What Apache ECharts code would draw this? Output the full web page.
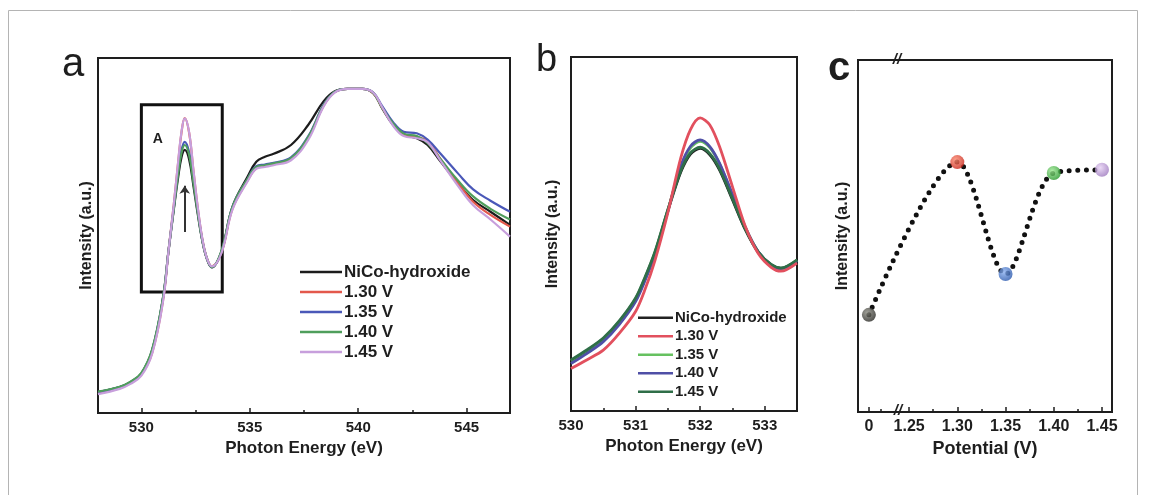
<!DOCTYPE html>
<html>
<head>
<meta charset="utf-8">
<script src="https://cdn.jsdelivr.net/npm/echarts@6/dist/echarts.min.js"></script>
<style>
  html, body { margin: 0; padding: 0; background: #fff; }
  #main { width: 1149px; height: 495px; }
</style>
</head>
<body>
<div id="main"></div>
<script>
// legend labels
const seriesNames = ['NiCo-hydroxide', '1.30 V', '1.35 V', '1.40 V', '1.45 V'];

// panel a: full O K-edge spectra (photon energy, eV)
const energyA = [528, 529, 529.5, 530, 530.5, 531, 531.25, 531.5, 531.7, 531.85, 532, 532.2, 532.4, 532.6, 532.8, 533, 533.25, 533.7, 534.2, 534.9, 535.3, 535.7, 536.1, 536.9, 537.7, 538.4, 538.9, 539.5, 540.2, 540.7, 541.1, 541.6, 542.1, 542.7, 543.2, 543.8, 544.6, 545.3, 546.1, 547];
const nicoA = [5.9, 7.3, 8.7, 11.1, 17.7, 32.5, 45.5, 57.5, 66.5, 72.0, 74.1, 71.5, 64.0, 56.0, 48.8, 43.8, 41.0, 45.6, 58.1, 66.6, 70.8, 72.2, 73.0, 75.5, 81.2, 87.8, 90.6, 91.3, 91.3, 90.1, 85.9, 81.2, 78.4, 77.4, 75.5, 70.8, 64.7, 60.0, 56.7, 53.0];
const v130A = [5.5, 7.0, 8.4, 10.8, 17.0, 31.8, 45.6, 59.0, 70.8, 79.0, 83.1, 79.0, 68.3, 57.8, 49.4, 44.0, 41.3, 45.3, 57.5, 65.5, 69.0, 69.6, 70.2, 71.5, 77.5, 86.5, 90.3, 91.3, 91.3, 90.0, 86.0, 81.5, 78.5, 77.8, 76.5, 71.5, 64.8, 59.5, 55.8, 52.5];
const v135A = [5.9, 7.3, 8.7, 11.1, 17.7, 32.5, 45.6, 58.0, 68.0, 74.0, 76.4, 73.5, 65.5, 56.8, 49.0, 43.9, 41.1, 45.6, 58.0, 66.0, 69.5, 70.0, 70.5, 72.0, 78.0, 86.8, 90.4, 91.3, 91.3, 90.2, 86.5, 82.0, 79.2, 78.8, 77.0, 73.0, 67.5, 63.0, 59.8, 56.7];
const v140A = [6.0, 7.4, 8.8, 11.3, 18.0, 32.7, 45.7, 57.8, 67.6, 73.3, 75.5, 72.8, 65.0, 56.5, 48.9, 43.9, 41.1, 45.8, 58.0, 66.0, 69.3, 69.8, 70.3, 71.8, 77.8, 86.6, 90.4, 91.3, 91.3, 90.1, 86.0, 81.6, 78.7, 78.0, 76.0, 71.5, 65.5, 61.0, 57.5, 54.5];
const v145A = [5.3, 6.8, 8.2, 10.5, 16.8, 31.5, 45.5, 59.0, 71.0, 79.2, 83.0, 79.2, 68.5, 58.0, 49.5, 44.0, 41.3, 45.2, 57.3, 65.3, 68.8, 69.3, 69.8, 71.2, 77.0, 86.3, 90.2, 91.3, 91.3, 90.2, 86.2, 81.0, 78.0, 77.4, 76.3, 71.0, 64.0, 58.5, 54.5, 49.7];
const ticksA = [530, 535, 540, 545];
const minorTicksA = [532.5, 537.5, 542.5];

// panel b: zoom on peak A
const energyB = [530, 530.25, 530.5, 530.75, 531, 531.15, 531.3, 531.5, 531.7, 531.85, 532, 532.15, 532.3, 532.5, 532.7, 532.9, 533.1, 533.25, 533.5];
const nicoB = [13.9, 16.8, 20.1, 25.0, 31.4, 37.5, 44.6, 56.5, 67.5, 72.6, 74.2, 72.4, 68.1, 59.7, 51.2, 44.8, 41.3, 40.3, 42.3];
const v130B = [12.0, 14.5, 17.2, 22.0, 28.1, 34.5, 42.5, 56.0, 71.5, 79.5, 82.8, 80.8, 74.7, 63.4, 52.1, 44.5, 40.6, 39.5, 41.8];
const v135B = [14.2, 17.1, 20.4, 25.3, 31.7, 37.8, 44.8, 56.8, 68.8, 74.3, 76.2, 74.4, 69.8, 61.0, 51.8, 45.0, 41.2, 40.2, 42.6];
const v140B = [13.4, 16.3, 19.6, 24.5, 30.9, 37.0, 44.2, 56.5, 69.2, 74.8, 76.6, 74.7, 70.0, 61.2, 51.9, 45.0, 41.3, 40.2, 42.4];
const v145B = [14.4, 17.3, 20.6, 25.5, 31.9, 38.0, 45.0, 56.9, 67.8, 72.9, 74.5, 72.7, 68.4, 60.0, 51.4, 44.9, 41.4, 40.4, 42.7];
const ticksB = [530, 531, 532, 533];
const minorTicksB = [530.5, 531.5, 532.5, 533.5];

// panel c: peak A intensity vs potential
const potentials = [0, 1.30, 1.35, 1.40, 1.45];
const intensityC = [27.6, 71.0, 39.2, 67.9, 68.8];
const tickLabelsC = [0, 1.25, 1.30, 1.35, 1.40, 1.45];

const font = 'Liberation Sans, Arial, sans-serif';
const ink = '#1e1e1e';
const colorsA = ['#1c1c1c', '#e3584c', '#4a58b8', '#4f9e5c', '#c79fdc'];
const colorsB = ['#222222', '#e2505e', '#66c160', '#4f4fa6', '#2f6e48'];
const ballColors = [['#8a8a80', '#2a2a26'], ['#ff8a70', '#c8281c'], ['#8ab0f0', '#2e5cb0'], ['#9ae890', '#2c9a30'], ['#e6d0f4', '#a07cc0']];

// x axis break in panel c: "0" sits just left of 1.25
const breakC = v => (v < 1 ? 1.2083 + v : v);

function zip(xs, ys) {
  return xs.map((x, i) => [x, ys[i]]);
}

const chart = echarts.init(document.getElementById('main'));

function xMain(grid, min, max, ticks, name, fs, formatter) {
  return {
    type: 'value', gridIndex: grid, min: min, max: max,
    name: name, nameLocation: 'middle', nameGap: 26,
    nameTextStyle: { color: ink, fontFamily: font, fontWeight: 'bold', fontSize: fs + 2 },
    axisLine: { show: true, lineStyle: { color: ink, width: 2 } },
    axisTick: { show: true, inside: true, length: 5, lineStyle: { color: ink, width: 1.5 }, customValues: ticks },
    axisLabel: { show: true, margin: 7, customValues: ticks, formatter: formatter, color: ink, fontFamily: font, fontWeight: 'bold', fontSize: fs },
    splitLine: { show: false }
  };
}
function xMinor(grid, min, max, ticks) {
  return {
    type: 'value', gridIndex: grid, min: min, max: max, position: 'bottom',
    axisLine: { show: false },
    axisTick: { show: true, inside: true, length: 3, lineStyle: { color: ink, width: 1.5 }, customValues: ticks },
    axisLabel: { show: false },
    splitLine: { show: false }
  };
}
function yAxis(grid, gap) {
  return {
    type: 'value', gridIndex: grid, min: 0, max: 100,
    name: 'Intensity (a.u.)', nameLocation: 'middle', nameGap: gap,
    nameTextStyle: { color: ink, fontFamily: font, fontWeight: 'bold', fontSize: 16 },
    axisLine: { show: false }, axisTick: { show: false }, axisLabel: { show: false }, splitLine: { show: false }
  };
}

const seriesA = [nicoA, v130A, v135A, v140A, v145A].map((ys, i) => ({
  name: seriesNames[i], type: 'line', xAxisIndex: 0, yAxisIndex: 0,
  data: zip(energyA, ys), smooth: 0.4, showSymbol: false,
  lineStyle: { color: colorsA[i], width: 2.2 }, itemStyle: { color: colorsA[i] }
}));
seriesA[0].markArea = {
  silent: true,
  itemStyle: { color: 'rgba(0,0,0,0)', borderColor: '#111', borderWidth: 3 },
  label: { show: true, position: [13, 29], formatter: 'A', color: ink, fontFamily: font, fontWeight: 'bold', fontSize: 14 },
  data: [[{ coord: [530, 86.8] }, { coord: [533.73, 34.1] }]]
};
seriesA[0].markLine = {
  silent: true, symbol: ['none', 'arrow'], symbolSize: 8,
  lineStyle: { color: '#333', width: 2, type: 'solid' }, label: { show: false },
  data: [[{ coord: [532, 51] }, { coord: [532, 64] }]]
};

// trailing space keeps panel-b legend colours separate from panel a
const seriesB = [nicoB, v130B, v135B, v140B, v145B].map((ys, i) => ({
  name: seriesNames[i] + ' ', type: 'line', xAxisIndex: 2, yAxisIndex: 1,
  data: zip(energyB, ys), smooth: 0.3, showSymbol: false,
  z: i === 1 ? 3 : 2,
  lineStyle: { color: colorsB[i], width: 2.8 }, itemStyle: { color: colorsB[i] }
}));

const pointsC = potentials.map((p, i) => [breakC(p), intensityC[i]]);

const option = {
  animation: false,
  backgroundColor: '#fff',
  grid: [
    { left: 98, top: 58, width: 412, height: 355, show: true, borderColor: ink, borderWidth: 2 },
    { left: 571, top: 57, width: 226, height: 354, show: true, borderColor: ink, borderWidth: 2 },
    { left: 858, top: 60, width: 254, height: 352, show: true, borderColor: ink, borderWidth: 2 }
  ],
  xAxis: [
    xMain(0, 528, 547, ticksA, 'Photon Energy (eV)', 15),
    xMinor(0, 528, 547, minorTicksA),
    xMain(1, 530, 533.5, ticksB, 'Photon Energy (eV)', 15),
    xMinor(1, 530, 533.5, minorTicksB),
    xMain(2, 1.197, 1.4604, tickLabelsC.map(breakC), 'Potential (V)', 16,
      v => (v < 1.24 ? '0' : v.toFixed(2))),
    xMinor(2, 1.197, 1.4604, [1.2208, 1.275, 1.325, 1.375, 1.425])
  ],
  yAxis: [yAxis(0, 3), yAxis(1, 10), yAxis(2, 7)],
  legend: [
    {
      data: seriesNames, left: 300, top: 263.5, orient: 'vertical', padding: 0,
      icon: 'rect', itemWidth: 42, itemHeight: 2.5, itemGap: 3,
      textStyle: { color: ink, fontFamily: font, fontWeight: 'bold', fontSize: 17, lineHeight: 17, padding: [0, 0, 0, -3] }
    },
    {
      data: seriesNames.map(n => n + ' '), left: 638, top: 310, orient: 'vertical', padding: 0,
      icon: 'rect', itemWidth: 35, itemHeight: 2.5, itemGap: 3,
      formatter: n => n.trim(),
      textStyle: { color: ink, fontFamily: font, fontWeight: 'bold', fontSize: 15, lineHeight: 15.5, padding: [0, 0, 0, -3] }
    }
  ],
  series: [
    ...seriesA,
    ...seriesB,
    {
      name: 'trend', type: 'line', xAxisIndex: 4, yAxisIndex: 2,
      data: pointsC, smooth: 0.3, showSymbol: false, z: 2,
      lineStyle: { color: '#111', width: 5, type: [0, 8.5], cap: 'round' }
    },
    {
      name: 'points', type: 'scatter', xAxisIndex: 4, yAxisIndex: 2,
      data: pointsC, symbolSize: 14, z: 3,
      itemStyle: {
        color: p => new echarts.graphic.RadialGradient(0.38, 0.35, 0.65, [
          { offset: 0, color: ballColors[p.dataIndex][0] },
          { offset: 1, color: ballColors[p.dataIndex][1] }
        ])
      }
    }
  ],
  graphic: [
    { type: 'rect', shape: { x: 8.5, y: 10.5, width: 1129, height: 500 }, style: { fill: 'none', stroke: '#b4b4b4', lineWidth: 1 } },
    { type: 'text', x: 62, y: 65, style: { text: 'a', font: '40px ' + font, fill: ink, verticalAlign: 'middle' } },
    { type: 'text', x: 536, y: 61, style: { text: 'b', font: '38px ' + font, fill: ink, verticalAlign: 'middle' } },
    { type: 'text', x: 828, y: 69, style: { text: 'c', font: 'bold 40px ' + font, fill: ink, verticalAlign: 'middle' } },
    { type: 'text', x: 897, y: 60, style: { text: '//', font: 'bold italic 15px ' + font, fill: ink, align: 'center', verticalAlign: 'middle' } },
    { type: 'text', x: 898, y: 411, style: { text: '//', font: 'bold italic 15px ' + font, fill: ink, align: 'center', verticalAlign: 'middle' } }
  ]
};

chart.setOption(option);
</script>
</body>
</html>
